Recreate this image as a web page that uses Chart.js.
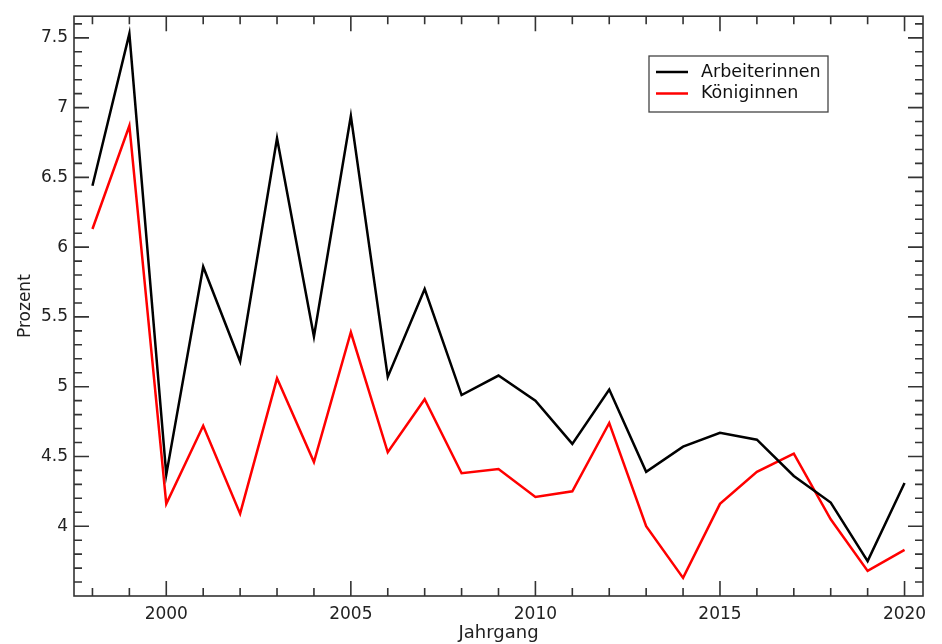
<!DOCTYPE html>
<html><head><meta charset="utf-8">
<script src="https://cdn.jsdelivr.net/npm/chart.js@4/dist/chart.umd.min.js"></script>
<style>html,body{margin:0;padding:0;background:#fff}#wrap{width:942px;height:644px}</style>
</head><body><div id="wrap"><canvas id="c" width="942" height="644"></canvas></div>
<script>
const years = [1998,1999,2000,2001,2002,2003,2004,2005,2006,2007,2008,2009,2010,2011,2012,2013,2014,2015,2016,2017,2018,2019,2020];
const arbeiterinnen = [6.44,7.53,4.37,5.86,5.18,6.78,5.36,6.94,5.07,5.70,4.94,5.08,4.90,4.59,4.98,4.39,4.57,4.67,4.62,4.36,4.17,3.75,4.31];
const koeniginnen  = [6.13,6.87,4.16,4.72,4.09,5.06,4.46,5.39,4.53,4.91,4.38,4.41,4.21,4.25,4.74,4.00,3.63,4.16,4.39,4.52,4.05,3.68,3.83];
const seriesLabels = ['Arbeiterinnen','Königinnen'];
const xTickValues = [2000,2005,2010,2015,2020];
const yTickValues = [4,4.5,5,5.5,6,6.5,7,7.5];
const FONT = 'DejaVu Sans';

const toPts = arr => years.map((yr,i)=>({x:yr,y:arr[i]}));

const frameTicks = {
  id:'frameTicks',
  afterDatasetsDraw(chart){
    const {ctx, chartArea:a, scales:{x,y}} = chart;
    ctx.save();
    ctx.strokeStyle='#333'; ctx.lineWidth=1.6;
    ctx.strokeRect(a.left,a.top,a.right-a.left,a.bottom-a.top);
    ctx.beginPath();
    for(let yr=Math.ceil(x.min); yr<=x.max; yr++){
      const px=x.getPixelForValue(yr), len = yr%5===0?15:8;
      ctx.moveTo(px,a.bottom); ctx.lineTo(px,a.bottom-len);
      ctx.moveTo(px,a.top); ctx.lineTo(px,a.top+len);
    }
    for(let k=Math.ceil(y.min*10+1e-6); k<=Math.floor(y.max*10); k++){
      const py=y.getPixelForValue(k/10), len = k%5===0?15:8;
      ctx.moveTo(a.left,py); ctx.lineTo(a.left+len,py);
      ctx.moveTo(a.right,py); ctx.lineTo(a.right-len,py);
    }
    ctx.stroke();
    // legend
    const lx=649, ly=56, lw=179, lh=56;
    ctx.fillStyle='#fff'; ctx.fillRect(lx,ly,lw,lh);
    ctx.strokeStyle='#444'; ctx.lineWidth=1.3; ctx.strokeRect(lx,ly,lw,lh);
    ctx.font='17.5px "'+FONT+'"'; ctx.textBaseline='middle'; ctx.textAlign='left';
    chart.data.datasets.forEach((ds,i)=>{
      const yy = ly+16+i*21.5;
      ctx.strokeStyle=ds.borderColor; ctx.lineWidth=2.5;
      ctx.beginPath(); ctx.moveTo(656,yy); ctx.lineTo(688,yy); ctx.stroke();
      ctx.fillStyle='#111'; ctx.fillText(ds.label,701,yy);
    });
    ctx.restore();
  }
};

new Chart(document.getElementById('c'),{
  type:'line',
  data:{datasets:[
    {label:seriesLabels[0],data:toPts(arbeiterinnen),borderColor:'#000',borderWidth:2.5,pointRadius:0,tension:0,fill:false},
    {label:seriesLabels[1],data:toPts(koeniginnen),borderColor:'#ff0000',borderWidth:2.5,pointRadius:0,tension:0,fill:false}
  ]},
  options:{
    responsive:false, animation:false, devicePixelRatio:1,
    layout:{padding:{top:13,right:19,left:0,bottom:0}},
    plugins:{legend:{display:false},tooltip:{enabled:false}},
    scales:{
      x:{type:'linear',min:1997.5,max:2020.5,
        afterBuildTicks(s){s.ticks=xTickValues.map(v=>({value:v}));},
        afterFit(s){s.height=48;},
        grid:{display:false,drawTicks:false},border:{display:false},
        ticks:{padding:8,color:'#222',font:{family:FONT,size:17},callback:v=>String(v),maxRotation:0,autoSkip:false},
        title:{display:true,text:'Jahrgang',color:'#222',font:{family:FONT,size:18},padding:{top:0,bottom:0}}
      },
      y:{type:'linear',min:3.5,max:7.655,
        afterBuildTicks(s){s.ticks=yTickValues.map(v=>({value:v}));},
        afterFit(s){s.width=74;},
        grid:{display:false,drawTicks:false},border:{display:false},
        ticks:{padding:6,color:'#222',font:{family:FONT,size:17},callback:v=>String(v),autoSkip:false},
        title:{display:true,text:'Prozent',color:'#222',font:{family:FONT,size:17},padding:{top:15,bottom:0}}
      }
    }
  },
  plugins:[frameTicks]
});
</script></body></html>
